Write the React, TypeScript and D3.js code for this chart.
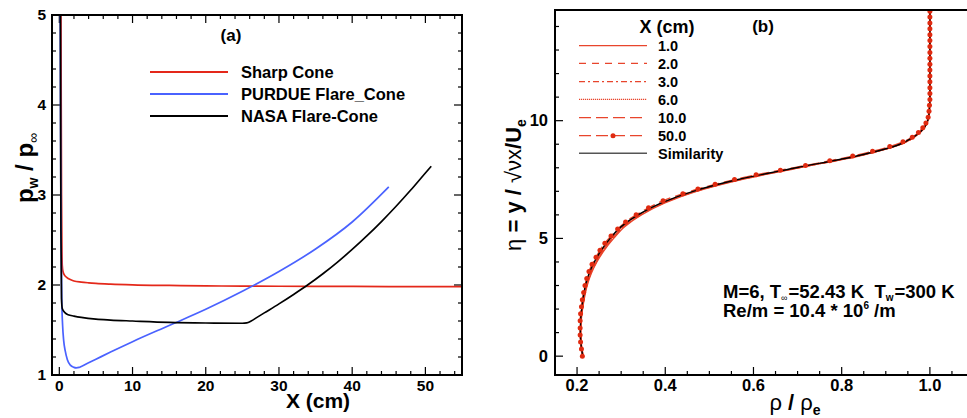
import React from "react";
import * as d3 from "d3";

// ---------- Panel (a) data ----------
const xSharp = [0.22, 0.26, 0.3, 0.35, 0.4, 0.5, 0.7, 1, 1.5, 2, 3, 4, 5, 7, 10, 15, 20, 25, 30, 35, 40, 45, 50, 55];
const pSharp = [5.3, 4.0, 3.0, 2.45, 2.22, 2.15, 2.11, 2.085, 2.06, 2.045, 2.032, 2.024, 2.018, 2.01, 2.002, 1.995, 1.99, 1.988, 1.986, 1.985, 1.984, 1.983, 1.982, 1.982];

const xPurdue = [0.12, 0.16, 0.2, 0.25, 0.33, 0.45, 0.6, 0.8, 1.1, 1.5, 2.0, 2.3, 2.7, 3, 4, 5, 7, 10, 15, 20, 25, 30, 35, 40, 45];
const pPurdue = [5.3, 4.0, 3.2, 2.5, 1.85, 1.55, 1.38, 1.27, 1.17, 1.11, 1.085, 1.08, 1.085, 1.095, 1.135, 1.175, 1.255, 1.37, 1.55, 1.73, 1.93, 2.15, 2.40, 2.70, 3.09];

const xNasa = [0.14, 0.18, 0.22, 0.3, 0.4, 0.8, 1.2, 2, 3, 5, 7, 10, 15, 20, 25, 25.6, 26.2, 27, 28, 30, 32, 34, 36, 38, 40, 42, 44, 46, 48, 50, 50.8];
const pNasa = [5.3, 3.8, 2.6, 1.85, 1.74, 1.69, 1.67, 1.655, 1.64, 1.62, 1.61, 1.6, 1.585, 1.578, 1.575, 1.579, 1.6, 1.64, 1.69, 1.79, 1.895, 2.005, 2.125, 2.255, 2.395, 2.545, 2.705, 2.875, 3.055, 3.245, 3.32];

const legendA = ["Sharp Cone", "PURDUE Flare_Cone", "NASA Flare-Cone"];
const colorsA = ["#e4281a", "#4a62ff", "#000000"];
const xTicksA = [0, 10, 20, 30, 40, 50];
const yTicksA = [1, 2, 3, 4, 5];

// ---------- Panel (b) data ----------
const etaSim = [0, 0.5, 1, 1.5, 2, 2.5, 3, 3.5, 4, 4.5, 5, 5.5, 6, 6.5, 7, 7.5, 8, 8.5, 9, 9.25, 9.5, 9.75, 10, 10.5, 11, 12, 13, 14, 14.7];
const rhoSim = [0.213, 0.209, 0.2075, 0.208, 0.2105, 0.214, 0.219, 0.227, 0.239, 0.255, 0.275, 0.30, 0.338, 0.39, 0.463, 0.565, 0.697, 0.834, 0.932, 0.958, 0.977, 0.989, 0.995, 0.999, 1.0, 1.0, 1.0, 1.0, 1.0];

const etaRed = [0, 0.5, 1, 1.5, 2, 2.5, 3, 3.5, 4, 4.5, 5, 5.5, 6, 6.5, 7, 7.5, 8, 8.5, 9, 9.5, 10, 10.5, 11, 12, 13, 14, 14.7];
const rho1 = [0.214, 0.210, 0.2085, 0.2095, 0.2125, 0.217, 0.223, 0.232, 0.245, 0.262, 0.283, 0.308, 0.346, 0.398, 0.471, 0.573, 0.704, 0.839, 0.935, 0.978, 0.995, 0.999, 1.0, 1.0, 1.0, 1.0, 1.0];
const rho2 = [0.214, 0.210, 0.2085, 0.209, 0.212, 0.216, 0.222, 0.231, 0.244, 0.260, 0.281, 0.306, 0.344, 0.396, 0.469, 0.571, 0.702, 0.838, 0.934, 0.978, 0.995, 0.999, 1.0, 1.0, 1.0, 1.0, 1.0];
const rho3 = [0.213, 0.2095, 0.208, 0.209, 0.2115, 0.2155, 0.221, 0.230, 0.243, 0.259, 0.280, 0.305, 0.343, 0.395, 0.468, 0.570, 0.701, 0.837, 0.934, 0.977, 0.995, 0.999, 1.0, 1.0, 1.0, 1.0, 1.0];
const rho6 = [0.213, 0.2095, 0.208, 0.2085, 0.211, 0.215, 0.2205, 0.2295, 0.242, 0.258, 0.279, 0.304, 0.342, 0.394, 0.467, 0.569, 0.700, 0.837, 0.933, 0.977, 0.995, 0.999, 1.0, 1.0, 1.0, 1.0, 1.0];
const rho10 = [0.213, 0.209, 0.2078, 0.2083, 0.2108, 0.2145, 0.220, 0.228, 0.241, 0.257, 0.277, 0.302, 0.340, 0.392, 0.465, 0.567, 0.699, 0.836, 0.933, 0.977, 0.995, 0.999, 1.0, 1.0, 1.0, 1.0, 1.0];

const eta50 = [0, 0.3, 0.6, 0.9, 1.2, 1.5, 1.8, 2.1, 2.4, 2.7, 3.0, 3.3, 3.6, 3.9, 4.2, 4.5, 4.8, 5.1, 5.4, 5.7, 6.0, 6.3, 6.6, 6.9, 7.1, 7.3, 7.5, 7.7, 7.9, 8.1, 8.3, 8.5, 8.7, 8.9, 9.1, 9.3, 9.5, 9.7, 9.9, 10.15, 10.4, 10.65, 10.9, 11.15, 11.4, 11.65, 11.9, 12.15, 12.4, 12.65, 12.9, 13.15, 13.4, 13.65, 13.9, 14.15, 14.4, 14.65];
const rho50 = [0.212, 0.210, 0.208, 0.207, 0.207, 0.207, 0.208, 0.210, 0.212, 0.215, 0.218, 0.222, 0.227, 0.234, 0.243, 0.252, 0.263, 0.277, 0.292, 0.310, 0.334, 0.362, 0.395, 0.44, 0.474, 0.513, 0.557, 0.606, 0.661, 0.718, 0.773, 0.825, 0.870, 0.909, 0.939, 0.960, 0.974, 0.984, 0.991, 0.996, 0.998, 0.999, 1.0, 1.0, 1.0, 1.0, 1.0, 1.0, 1.0, 1.0, 1.0, 1.0, 1.0, 1.0, 1.0, 1.0, 1.0, 1.0];

const legendB = ["1.0", "2.0", "3.0", "6.0", "10.0", "50.0", "Similarity"];
const dashesB = ["none", "7,6", "6,3,2,3", "1.2,0.8", "12,5", "12,5", "none"];
const xTicksB = [0.2, 0.4, 0.6, 0.8, 1.0];
const yTicksB = [0, 5, 10];

const FONT = "'Liberation Sans', Arial, Helvetica, sans-serif";
const RED_B = "#e8452c";

export default function App() {
  const aL = 52, aR = 462, aT = 15, aB = 375;
  const xA = d3.scaleLinear().domain([-1, 55]).range([aL, aR]);
  const yA = d3.scaleLinear().domain([1, 5]).range([aB, aT]);
  const lineA = (xs: number[], ys: number[]) =>
    d3.line<number>().x((_, i) => xA(xs[i])).y((d) => yA(d)).curve(d3.curveMonotoneX)(ys) || "";

  const bL = 555, bR = 974, bT = 10, bB = 375;
  const xB = d3.scaleLinear().domain([0.15, 1.1]).range([bL, bR]);
  const yB = d3.scaleLinear().domain([-0.8, 14.7]).range([bB, bT]);
  const lineB = (rs: number[], es: number[]) =>
    d3.line<number>().x((d) => xB(d)).y((_, i) => yB(es[i])).curve(d3.curveMonotoneY)(rs) || "";

  const minorXA = d3.range(0, 55, 2);
  const minorYA = d3.range(1, 5.001, 0.2);
  const minorXB = d3.range(0.15, 1.1, 0.05);
  const minorYB = d3.range(0, 14.5, 1);

  const seriesA = [
    [xSharp, pSharp],
    [xPurdue, pPurdue],
    [xNasa, pNasa],
  ];
  const redSeries = [rho1, rho2, rho3, rho6, rho10];
  const legRowsB = [45.7, 63.3, 81.7, 99.3, 117.7, 135.7, 153.3];

  return (
    <svg
      width={967}
      height={418}
      style={{ position: "absolute", left: 0, top: 0, display: "block", background: "#fff" }}
      fontFamily={FONT}
    >
      <defs>
        <clipPath id="clipA">
          <rect x={aL} y={aT} width={aR - aL} height={aB - aT} />
        </clipPath>
        <clipPath id="clipB">
          <rect x={bL} y={bT} width={bR - bL} height={bB - bT} />
        </clipPath>
      </defs>
      <rect x={0} y={0} width={967} height={418} fill="#fff" />

      {/* ================= Panel (a) ================= */}
      <g>
        {minorXA.map((v) => {
          const major = xTicksA.includes(Math.round(v));
          const len = major ? 8 : 4;
          return (
            <g key={"mxa" + v}>
              <line x1={xA(v)} x2={xA(v)} y1={aB} y2={aB - len} stroke="#000" strokeWidth={1.2} />
              <line x1={xA(v)} x2={xA(v)} y1={aT} y2={aT + len} stroke="#000" strokeWidth={1.2} />
            </g>
          );
        })}
        {minorYA.map((v) => {
          const major = Math.abs(v - Math.round(v)) < 1e-6;
          const len = major ? 8 : 4;
          return (
            <g key={"mya" + v}>
              <line x1={aL} x2={aL + len} y1={yA(v)} y2={yA(v)} stroke="#000" strokeWidth={1.2} />
              <line x1={aR} x2={aR - len} y1={yA(v)} y2={yA(v)} stroke="#000" strokeWidth={1.2} />
            </g>
          );
        })}
        {xTicksA.map((v) => (
          <text key={"xla" + v} x={xA(v)} y={391} fontSize={15.5} fontWeight="bold" textAnchor="middle">
            {v}
          </text>
        ))}
        {yTicksA.map((v) => (
          <text key={"yla" + v} x={46} y={yA(v) + 5} fontSize={15.5} fontWeight="bold" textAnchor="end">
            {v}
          </text>
        ))}

        <g clipPath="url(#clipA)">
          {seriesA.map(([xs, ys], i) => (
            <path key={"sa" + i} d={lineA(xs, ys)} fill="none" stroke={colorsA[i]} strokeWidth={1.7} />
          ))}
        </g>
        <rect x={aL} y={aT} width={aR - aL} height={aB - aT} fill="none" stroke="#000" strokeWidth={2} />

        {legendA.map((name, i) => {
          const y = 72 + i * 22;
          return (
            <g key={"lga" + i}>
              <line x1={150} x2={228} y1={y} y2={y} stroke={colorsA[i]} strokeWidth={1.8} />
              <text x={241} y={y + 6} fontSize={16.5} fontWeight="bold">
                {name}
              </text>
            </g>
          );
        })}
        <text x={231} y={41} fontSize={17} fontWeight="bold" textAnchor="middle">
          (a)
        </text>

        <text x={318} y={408} fontSize={21} fontWeight="bold" textAnchor="middle">
          X (cm)
        </text>
        <text transform="translate(33,168) rotate(-90)" fontSize={24} fontWeight="bold" textAnchor="middle">
          <tspan>p</tspan>
          <tspan fontSize={14} dy={5}>w</tspan>
          <tspan dy={-5}> / p</tspan>
          <tspan fontSize={14} fontWeight="normal" dy={5}>∞</tspan>
        </text>
      </g>

      {/* ================= Panel (b) ================= */}
      <g>
        {minorXB.map((v) => {
          const major = xTicksB.some((t) => Math.abs(t - v) < 1e-6);
          const len = major ? 8 : 4;
          return (
            <line key={"mxb" + v} x1={xB(v)} x2={xB(v)} y1={bB} y2={bB - len} stroke="#000" strokeWidth={1.2} />
          );
        })}
        {minorYB.map((v) => {
          const major = yTicksB.includes(v);
          const len = major ? 8 : 4;
          return <line key={"myb" + v} x1={bL} x2={bL + len} y1={yB(v)} y2={yB(v)} stroke="#000" strokeWidth={1.2} />;
        })}
        {xTicksB.map((v) => (
          <text key={"xlb" + v} x={xB(v)} y={391} fontSize={16.5} fontWeight="bold" textAnchor="middle">
            {v.toFixed(1)}
          </text>
        ))}
        {yTicksB.map((v) => (
          <text key={"ylb" + v} x={548} y={yB(v) + 5.5} fontSize={16.5} fontWeight="bold" textAnchor="end">
            {v}
          </text>
        ))}

        <g clipPath="url(#clipB)">
          {redSeries.map((rs, i) => (
            <path
              key={"rb" + i}
              d={lineB(rs, etaRed)}
              fill="none"
              stroke={RED_B}
              strokeWidth={1.3}
              strokeDasharray={dashesB[i]}
            />
          ))}
          <path d={lineB(rho50, eta50)} fill="none" stroke={RED_B} strokeWidth={1.3} strokeDasharray={dashesB[5]} />
          <path d={lineB(rhoSim, etaSim)} fill="none" stroke="#000" strokeWidth={1.4} />
          {rho50.map((r, i) => (
            <circle key={"m50" + i} cx={xB(r)} cy={yB(eta50[i])} r={2.5} fill="#e02a10" />
          ))}
        </g>
        <path d={`M${bR},${bT}H${bL}V${bB}H${bR}`} fill="none" stroke="#000" strokeWidth={2} />

        <text x={667} y={33} fontSize={18} fontWeight="bold" textAnchor="middle">
          X (cm)
        </text>
        {legendB.map((name, i) => {
          const y = legRowsB[i];
          const isSim = i === 6;
          return (
            <g key={"lgb" + i}>
              <line
                x1={579}
                x2={647}
                y1={y}
                y2={y}
                stroke={isSim ? "#555" : RED_B}
                strokeWidth={isSim ? 1.4 : 1.2}
                strokeDasharray={dashesB[i]}
              />
              {i === 5 && <circle cx={613} cy={y} r={2.5} fill="#e02a10" />}
              <text x={658} y={y + 5.5} fontSize={14.5} fontWeight="bold">
                {name}
              </text>
            </g>
          );
        })}
        <text x={763} y={32} fontSize={17} fontWeight="bold" textAnchor="middle">
          (b)
        </text>

        {/* annotation */}
        <text x={723} y={298} fontSize={18.5} fontWeight="bold">
          <tspan>M=6, T</tspan>
          <tspan fontSize={9} fontWeight="normal" dy={3}>∞</tspan>
          <tspan dy={-3} dx={1}>{"=52.43 K\u00A0\u00A0T"}</tspan>
          <tspan fontSize={10} dy={3}>w</tspan>
          <tspan dy={-3} dx={1}>=300 K</tspan>
        </text>
        <text x={723} y={317} fontSize={18.5} fontWeight="bold">
          <tspan>Re/m = 10.4 * 10</tspan>
          <tspan fontSize={10} dy={-8}>6</tspan>
          <tspan dy={8}> /m</tspan>
        </text>

        <text x={795} y={410} fontSize={22} textAnchor="middle">
          <tspan>ρ</tspan>
          <tspan fontWeight="bold"> / </tspan>
          <tspan>ρ</tspan>
          <tspan fontSize={14} fontWeight="bold" dy={5}>e</tspan>
        </text>
        <text transform="translate(521,185) rotate(-90)" fontSize={22} textAnchor="middle">
          <tspan>η</tspan>
          <tspan fontWeight="bold"> = y / </tspan>
          <tspan>√νx</tspan>
          <tspan fontWeight="bold">/U</tspan>
          <tspan fontSize={14} fontWeight="bold" dy={5}>e</tspan>
        </text>
      </g>
    </svg>
  );
}
